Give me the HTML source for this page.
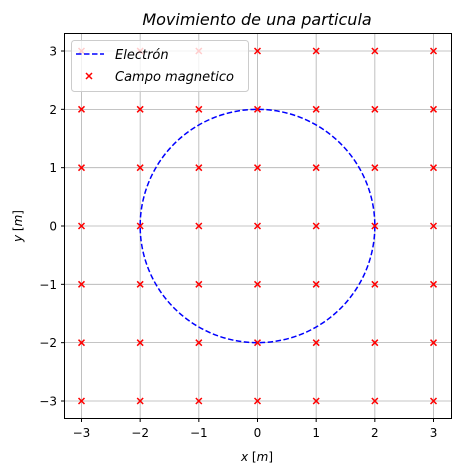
<!DOCTYPE html>
<html><head><meta charset="utf-8"><style>body{margin:0;background:#fff}svg{display:block;font-family:"DejaVu Sans","Liberation Sans",sans-serif}</style></head>
<body>
<svg id="chart" width="461" height="474">
<g id="grid"></g>
<g id="marks"></g>
<rect x="64.5" y="33.5" width="387" height="385" fill="none" stroke="#000" stroke-width="1"/>
<g id="ticks" font-size="12"></g>
<text x="257" y="25" text-anchor="middle" font-size="16" font-style="italic">Movimiento de una particula</text>
<text x="257" y="461" text-anchor="middle" font-size="12"><tspan font-style="italic">x</tspan> [<tspan font-style="italic">m</tspan>]</text>
<text transform="translate(22,226) rotate(-90)" text-anchor="middle" font-size="12"><tspan font-style="italic">y</tspan> [<tspan font-style="italic">m</tspan>]</text>
<g>
<rect x="71.5" y="40.5" width="177" height="51" rx="3" fill="#fff" fill-opacity="0.8" stroke="#ccc"/>
<line x1="76" y1="54" x2="104" y2="54" stroke="#00f" stroke-width="1.5" stroke-dasharray="5.5,2.5"/>
<text x="115" y="59" font-size="13" font-style="italic">Electrón</text>
<path d="M86,73l6,6M92,73l-6,6" stroke="#f00" stroke-width="1.5"/>
<text x="115" y="81" font-size="13" font-style="italic">Campo magnetico</text>
</g>
</svg>
<script>
const xTicks=[-3,-2,-1,0,1,2,3];
const yTicks=[-3,-2,-1,0,1,2,3];
const fieldX=[-3,-2,-1,0,1,2,3];
const fieldY=[-3,-2,-1,0,1,2,3];
const circleCenter=[0,0];
const circleRadius=[2];
const NS="http://www.w3.org/2000/svg";
const sx=v=>257.5+v*58.67, sy=v=>226-v*58.33;
function mk(t,a,p){const e=document.createElementNS(NS,t);for(const k in a)e.setAttribute(k,a[k]);p.appendChild(e);return e;}
const grid=document.getElementById('grid'),ticks=document.getElementById('ticks'),marks=document.getElementById('marks');
xTicks.forEach(v=>{const x=sx(v);
 const g=mk('line',{x1:x,x2:x,y1:33.5,y2:418.5,stroke:'#b0b0b0','stroke-width':0.8},grid);
 
 
 mk('line',{x1:x,x2:x,y1:418.5,y2:422,stroke:'#000'},ticks);
 const t=mk('text',{x:x,y:437,'text-anchor':'middle'},ticks);t.textContent=v<0?'\u2212'+(-v):v;
 
 });
yTicks.forEach(v=>{const y=sy(v);
 const g=mk('line',{x1:64.5,x2:451.5,y1:y,y2:y,stroke:'#b0b0b0','stroke-width':0.8},grid);
 
 
 mk('line',{x1:61,x2:64.5,y1:y,y2:y,stroke:'#000'},ticks);
 const t=mk('text',{x:57,y:y+4.5,'text-anchor':'end'},ticks);t.textContent=v<0?'\u2212'+(-v):v;
 
 });
const c=mk('ellipse',{cx:sx(circleCenter[0]),cy:sy(circleCenter[1]),rx:circleRadius[0]*58.67,ry:circleRadius[0]*58.33,fill:'none',stroke:'#00f','stroke-width':1.5,'stroke-dasharray':'5.5,2.5'},marks);


fieldX.forEach(a=>fieldY.forEach(b=>{const x=sx(a),y=sy(b);
 const p=mk('path',{d:`M${x-3},${y-3}l6,6M${x+3},${y-3}l-6,6`,stroke:'#f00','stroke-width':1.5},marks);
 
 }));
</script>
</body></html>
